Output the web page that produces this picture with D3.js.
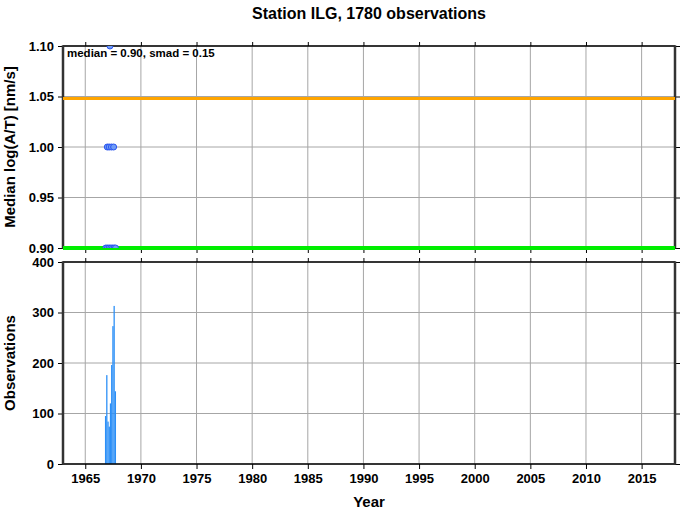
<!DOCTYPE html>
<html><head><meta charset="utf-8">
<script src="https://cdn.jsdelivr.net/npm/d3@7"></script>
<style>body{margin:0;background:#fff}svg{display:block;font-family:"Liberation Sans",Arial,Helvetica,sans-serif;font-weight:bold}</style>
</head><body>
<script>
const titleText = "Station ILG, 1780 observations";
const annotation = "median = 0.90, smad = 0.15";
const medianVal = 0.90;
const upperVal = 1.048;
const yearTicks = [1965,1970,1975,1980,1985,1990,1995,2000,2005,2010,2015];
const topTicks = [0.90,0.95,1.00,1.05,1.10];
const botTicks = [0,100,200,300,400];
// median points (year, value)
const ptYears = [1966.85,1967.0,1967.15,1967.3,1967.45,1967.6,1967.72, 1966.98,1967.15,1967.35,1967.55, 1967.22];
const ptVals  = [0.90,0.90,0.90,0.90,0.90,0.90,0.90, 1.00,1.00,1.00,1.00, 1.10];
// observation counts per bin
const binStarts = [1966.77,1966.88,1966.99,1967.10,1967.21,1967.32,1967.43,1967.54,1967.65];
const binCounts = [95,176,84,74,120,196,273,313,144];
const binWidth = 0.115;

const W=681,H=511, L=63, R=675, T1=46, B1=248, T2=262, B2=464;
const svg=d3.select("body").append("svg").attr("width",W).attr("height",H);
const x=d3.scaleLinear().domain([1963,2018]).range([L,R]);
const y1=d3.scaleLinear().domain([0.90,1.10]).range([B1,T1]);
const y2=d3.scaleLinear().domain([0,400]).range([B2,T2]);

svg.append("defs").append("clipPath").attr("id","c1").append("rect").attr("x",L).attr("y",T1).attr("width",R-L).attr("height",B1-T1);

function panel(y,ticks,fmt,top,bot,showX){
  const g=svg.append("g");
  g.selectAll(".gx").data(yearTicks).join("line").attr("x1",d=>x(d)).attr("x2",d=>x(d)).attr("y1",top).attr("y2",bot).attr("stroke","#a6a6a6").attr("stroke-width",1);
  g.selectAll(".gy").data(ticks).join("line").attr("x1",L).attr("x2",R).attr("y1",d=>y(d)).attr("y2",d=>y(d)).attr("stroke","#a6a6a6").attr("stroke-width",1);
  const la=svg.append("g").attr("transform",`translate(${L},0)`).call(d3.axisLeft(y).tickValues(ticks).tickFormat(fmt).tickSize(5).tickPadding(4));
  const ra=svg.append("g").attr("transform",`translate(${R},0)`).call(d3.axisRight(y).tickValues(ticks).tickFormat("").tickSize(5));
  const ta=svg.append("g").attr("transform",`translate(0,${top})`).call(d3.axisTop(x).tickValues(yearTicks).tickFormat("").tickSize(4));
  const ba=svg.append("g").attr("transform",`translate(0,${bot})`).call(d3.axisBottom(x).tickValues(yearTicks).tickFormat(showX?d3.format("d"):"").tickSize(5).tickPadding(5));
  [la,ra,ta,ba].forEach(a=>{a.select(".domain").remove();a.selectAll("line").attr("stroke","#000");a.selectAll("text").attr("font-size",13).attr("font-weight","bold").attr("fill","#000").attr("font-family","Liberation Sans, Arial, sans-serif");});
  return g;
}
function frame(top,bot){
  svg.append("line").attr("x1",L).attr("x2",R).attr("y1",top).attr("y2",top).attr("stroke","#000").attr("stroke-width",1.5);
  svg.append("line").attr("x1",L).attr("x2",R).attr("y1",bot).attr("y2",bot).attr("stroke","#000").attr("stroke-width",1.5);
  svg.append("line").attr("x1",L).attr("x2",L).attr("y1",top-0.75).attr("y2",bot+0.75).attr("stroke","#333").attr("stroke-width",2.5);
  svg.append("line").attr("x1",R).attr("x2",R).attr("y1",top-0.75).attr("y2",bot+0.75).attr("stroke","#333").attr("stroke-width",2.5);
}

panel(y1,topTicks,d3.format(".2f"),T1,B1,false);
panel(y2,botTicks,d3.format("d"),T2,B2,true);

svg.append("g").selectAll("rect").data(binStarts).join("rect")
  .attr("x",(d)=>x(d)).attr("width",(d)=>x(d+binWidth)-x(d))
  .attr("y",(d,i)=>y2(binCounts[i])).attr("height",(d,i)=>B2-y2(binCounts[i]))
  .attr("fill","#2b8ff7");

frame(T1,B1); frame(T2,B2);

svg.append("line").attr("x1",L).attr("x2",R).attr("y1",y1(upperVal)).attr("y2",y1(upperVal)).attr("stroke","#ffa500").attr("stroke-width",3);
svg.append("line").attr("x1",L).attr("x2",R).attr("y1",y1(medianVal)).attr("y2",y1(medianVal)).attr("stroke","#00ee00").attr("stroke-width",4);

svg.append("g").attr("clip-path","url(#c1)").selectAll("circle").data(ptYears).join("circle")
  .attr("cx",d=>x(d)).attr("cy",(d,i)=>y1(ptVals[i])).attr("r",3)
  .attr("fill","#6f9cf5").attr("stroke","#2a55f0").attr("stroke-width",1);

svg.append("text").attr("x",67).attr("y",57).attr("font-size",11.5).text(annotation);
svg.append("text").attr("x",(L+R)/2).attr("y",19).attr("text-anchor","middle").attr("font-size",16).text(titleText);
svg.append("text").attr("x",(L+R)/2).attr("y",507).attr("text-anchor","middle").attr("font-size",15).text("Year");
svg.append("text").attr("transform",`translate(15,${(T1+B1)/2}) rotate(-90)`).attr("text-anchor","middle").attr("font-size",15).text("Median log(A/T) [nm/s]");
svg.append("text").attr("transform",`translate(15,${(T2+B2)/2}) rotate(-90)`).attr("text-anchor","middle").attr("font-size",15).text("Observations");
</script>
</body></html>
